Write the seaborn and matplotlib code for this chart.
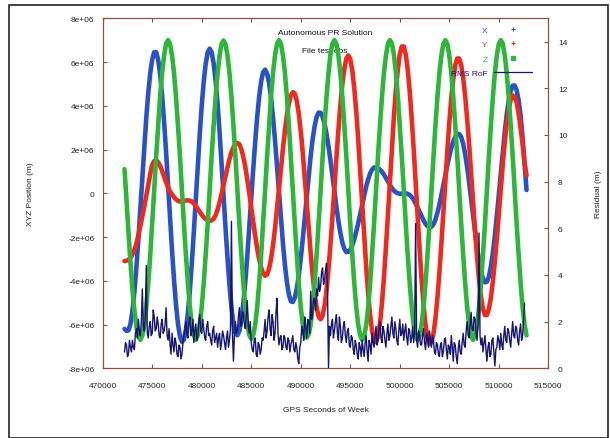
import numpy as np
import pandas as pd
import seaborn as sns
import matplotlib
matplotlib.use("Agg")
import matplotlib.pyplot as plt
from matplotlib.lines import Line2D
from matplotlib.patches import Rectangle
from matplotlib.ticker import FuncFormatter

# --- satellite XYZ position (units of 1e6 m), one epoch every 200 s
pos_t0 = 472200
pos_step = 200
x_pos = [-6.2, -6.29, -6.27, -5.98, -5.38, -4.50, -3.39, -2.10, -0.70, 0.75,
         2.15, 3.46, 4.58, 5.50, 6.13, 6.45, 6.45, 6.10, 5.43, 4.46,
         3.25, 1.87, 0.38, -1.14, -2.61, -3.95, -5.10, -5.97, -6.55, -6.79,
         -6.69, -6.24, -5.49, -4.45, -3.18, -1.76, -0.25, 1.27, 2.71, 4.02,
         5.11, 5.92, 6.44, 6.61, 6.44, 5.94, 5.14, 4.08, 2.80, 1.39,
         -0.09, -1.57, -2.95, -4.20, -5.21, -5.96, -6.39, -6.49, -6.29, -5.78,
         -5.02, -4.03, -2.86, -1.57, -0.22, 1.11, 2.36, 3.50, 4.42, 5.12,
         5.53, 5.65, 5.48, 5.04, 4.36, 3.47, 2.42, 1.24, 0.03, -1.17,
         -2.29, -3.28, -4.07, -4.63, -4.94, -4.97, -4.77, -4.36, -3.75, -2.98,
         -2.10, -1.14, -0.14, 0.82, 1.71, 2.47, 3.07, 3.49, 3.69, 3.68,
         3.51, 3.18, 2.72, 2.15, 1.50, 0.79, 0.08, -0.62, -1.26, -1.82,
         -2.25, -2.54, -2.69, -2.68, -2.58, -2.38, -2.11, -1.76, -1.37, -0.95,
         -0.52, -0.10, 0.30, 0.63, 0.90, 1.08, 1.18, 1.18, 1.15, 1.08,
         0.98, 0.85, 0.70, 0.54, 0.38, 0.24, 0.12, 0.05, 0.0, -0.02,
         -0.02, -0.01, 0.0, -0.03, -0.08, -0.17, -0.30, -0.47, -0.65, -0.85,
         -1.05, -1.24, -1.40, -1.50, -1.56, -1.53, -1.42, -1.20, -0.89, -0.52,
         -0.09, 0.36, 0.83, 1.28, 1.70, 2.07, 2.36, 2.58, 2.70, 2.71,
         2.57, 2.26, 1.79, 1.20, 0.50, -0.25, -1.03, -1.79, -2.49, -3.10,
         -3.58, -3.91, -4.07, -4.04, -3.80, -3.35, -2.72, -1.94, -1.03, -0.06,
         0.94, 1.91, 2.81, 3.60, 4.23, 4.68, 4.92, 4.93, 4.71, 4.25,
         3.55, 2.55, 1.35, 0.15]
y_pos = [-3.1, -3.08, -3.05, -2.95, -2.8, -2.58, -2.3, -1.92, -1.5, -1.05,
         -0.6, -0.1, 0.4, 0.88, 1.3, 1.47, 1.5, 1.42, 1.25, 1.02,
         0.75, 0.5, 0.25, 0.08, -0.05, -0.18, -0.28, -0.34, -0.38, -0.38,
         -0.36, -0.33, -0.32, -0.34, -0.38, -0.47, -0.58, -0.71, -0.85, -0.98,
         -1.1, -1.18, -1.23, -1.25, -1.24, -1.17, -1.0, -0.75, -0.42, -0.04,
         0.37, 0.79, 1.19, 1.56, 1.87, 2.10, 2.25, 2.3, 2.24, 2.01,
         1.66, 1.20, 0.63, 0.01, -0.65, -1.32, -1.96, -2.53, -3.02, -3.40,
         -3.66, -3.77, -3.71, -3.45, -2.99, -2.37, -1.61, -0.73, 0.19, 1.13,
         2.04, 2.86, 3.56, 4.10, 4.47, 4.62, 4.55, 4.22, 3.64, 2.84,
         1.86, 0.75, -0.41, -1.59, -2.72, -3.74, -4.59, -5.22, -5.63, -5.76,
         -5.6, -5.15, -4.44, -3.48, -2.34, -1.07, 0.28, 1.62, 2.89, 4.03,
         4.99, 5.70, 6.15, 6.3, 6.13, 5.63, 4.82, 3.75, 2.47, 1.05,
         -0.44, -1.91, -3.31, -4.55, -5.55, -6.28, -6.70, -6.8, -6.52, -5.93,
         -5.01, -3.85, -2.48, -0.99, 0.56, 2.07, 3.47, 4.70, 5.67, 6.36,
         6.71, 6.71, 6.35, 5.66, 4.68, 3.45, 2.03, 0.51, -1.04, -2.55,
         -3.93, -5.11, -6.01, -6.62, -6.89, -6.81, -6.42, -5.73, -4.78, -3.63,
         -2.30, -0.89, 0.55, 1.95, 3.23, 4.35, 5.23, 5.85, 6.16, 6.16,
         5.86, 5.29, 4.46, 3.42, 2.23, 0.93, -0.40, -1.69, -2.89, -3.91,
         -4.72, -5.29, -5.57, -5.56, -5.28, -4.77, -4.03, -3.11, -2.07, -0.94,
         0.21, 1.32, 2.33, 3.18, 3.84, 4.28, 4.47, 4.42, 4.15, 3.65,
         3.0, 2.25, 1.4, 0.8]
z_pos = [1.1, -0.3, -1.8, -3.15, -4.4, -5.35, -6.1, -6.55, -6.7, -6.5,
         -6.05, -5.2, -4.1, -2.8, -1.35, 0.15, 1.7, 3.1, 4.45, 5.5,
         6.3, 6.85,
         7.0, 6.83, 6.3, 5.5, 4.4, 3.1, 1.7, 0.15, -1.4, -2.8,
         -4.1, -5.2, -6.0, -6.5, -6.7, -6.5, -6.0, -5.2, -4.1, -2.8,
         -1.4, 0.15, 1.7, 3.1, 4.4, 5.5, 6.3, 6.83,
         6.98, 6.82, 6.3, 5.5, 4.4, 3.1, 1.7, 0.15, -1.4, -2.8,
         -4.1, -5.2, -6.0, -6.48, -6.65, -6.48, -6.0, -5.2, -4.1, -2.8,
         -1.35, 0.15, 1.7, 3.1, 4.45, 5.5, 6.3, 6.83,
         7.0, 6.83, 6.3, 5.5, 4.4, 3.1, 1.65, 0.12, -1.4, -2.8,
         -4.1, -5.2, -6.0, -6.45, -6.6, -6.45, -6.0, -5.2, -4.1, -2.8,
         -1.4, 0.12, 1.65, 3.1, 4.4, 5.5, 6.35, 6.85,
         7.0, 6.83, 6.3, 5.5, 4.4, 3.1, 1.7, 0.15, -1.4, -2.8,
         -4.1, -5.2, -6.0, -6.5, -6.7, -6.52, -6.05, -5.25, -4.15, -2.8,
         -1.4, 0.15, 1.7, 3.1, 4.4, 5.5, 6.3, 6.83,
         7.0, 6.85, 6.35, 5.55, 4.45, 3.1, 1.7, 0.15, -1.35, -2.8,
         -4.1, -5.2, -6.0, -6.5, -6.7, -6.5, -6.0, -5.2, -4.1, -2.8,
         -1.4, 0.15, 1.65, 3.1, 4.4, 5.5, 6.3, 6.83,
         7.0, 6.83, 6.3, 5.5, 4.4, 3.1, 1.7, 0.15, -1.4, -2.8,
         -4.1, -5.2, -6.0, -6.5, -6.7, -6.5, -6.0, -5.2, -4.1, -2.8,
         -1.4, 0.15, 1.7, 3.1, 4.4, 5.5, 6.3, 6.83,
         7.0, 6.83, 6.3, 5.5, 4.4, 3.1, 1.7, 0.15, -1.4, -2.8,
         -4.1, -5.2, -6.0, -6.5]

# --- RMS residual of fit (m), one epoch every 100 s
res_t0 = 472200
res_step = 100
rms_rof = [0.7, 1.1, 1.0, 0.5, 0.6, 1.2, 0.9, 0.7, 1.2, 0.9, 0.8, 1.5, 1.7, 1.3, 2.1, 1.6, 1.4, 2.0, 3.4, 1.8,
           1.6, 2.3, 4.4, 1.5, 1.3, 1.8, 2.0, 1.4, 1.5, 2.5, 2.2, 1.6, 1.7, 2.2, 1.9, 1.4, 1.3, 1.9, 2.1, 1.5,
           1.6, 1.9, 2.6, 1.4, 1.2, 1.7, 1.0, 0.6, 1.5, 1.0, 0.7, 1.3, 1.1, 0.6, 0.5, 1.0, 0.9, 0.4, 0.6, 1.1,
           1.4, 1.7, 2.0, 1.5, 1.3, 1.9, 2.2, 1.4, 1.6, 2.1, 1.1, 1.6, 1.9, 1.2, 1.4, 2.0, 2.3, 1.6, 1.5, 2.1,
           1.7, 1.3, 1.2, 1.8, 2.0, 1.4, 1.5, 1.2, 1.0, 1.6, 1.8, 1.1, 1.3, 1.5, 0.9, 1.3, 1.5, 0.8, 1.1, 1.6,
           1.4, 1.1, 0.8, 1.3, 1.6, 0.9, 1.2, 1.7, 6.3, 1.5, 0.3, 1.4, 2.0, 1.5, 1.6, 2.2, 2.6, 1.9, 1.8, 2.4,
           2.4, 1.9, 1.7, 2.3, 2.9, 1.8, 1.5, 2.0, 1.1, 0.8, 0.7, 1.2, 1.3, 0.6, 0.5, 1.1, 1.0, 0.6, 0.8, 1.3,
           1.2, 1.6, 2.1, 1.3, 1.6, 2.2, 2.5, 1.7, 1.4, 2.3, 2.0, 1.2, 1.5, 2.4, 3.0, 1.5, 1.0, 1.3, 1.4, 0.8,
           0.9, 1.4, 1.3, 0.9, 0.8, 1.3, 1.2, 0.7, 1.0, 1.2, 1.4, 0.8, 0.7, 1.1, 0.9, 0.4, 0.2, 0.9, 1.1, 1.8,
           1.6, 1.2, 2.2, 1.8, 1.3, 2.1, 2.0, 1.5, 3.3, 2.1, 2.4, 3.0, 2.9, 2.5, 3.4, 3.1, 3.9, 3.3, 3.5, 4.1,
           4.3, 3.6, 3.8, 4.2, 4.5, 3.4, 0.0, 1.8, 1.4, 1.9, 2.1, 1.3, 1.6, 2.0, 2.3, 1.5, 1.2, 2.2, 1.8, 1.1,
           1.3, 1.8, 2.0, 1.4, 1.1, 1.6, 1.7, 1.0, 0.9, 1.4, 1.3, 0.8, 0.6, 1.2, 1.0, 0.6, 0.4, 1.1, 0.9, 0.5,
           1.2, 0.8, 0.5, 1.1, 1.4, 0.7, 0.3, 1.2, 1.0, 0.6, 1.5, 1.1, 0.9, 1.4, 1.8, 1.0, 1.2, 1.7, 2.0, 1.3,
           1.1, 1.8, 1.6, 1.2, 0.9, 1.5, 1.9, 1.2, 1.4, 1.8, 2.2, 1.5, 1.3, 2.0, 1.7, 1.2, 1.0, 1.6, 2.1, 1.4,
           1.5, 1.9, 1.2, 1.6, 1.9, 1.3, 1.0, 1.7, 1.6, 1.1, 1.3, 1.8, 1.1, 1.5, 6.2, 1.2, 0.9, 1.6, 1.4, 1.0,
           1.0, 1.4, 1.7, 1.1, 0.8, 1.5, 1.3, 0.9, 1.6, 1.2, 0.9, 1.4, 1.2, 0.7, 0.6, 1.1, 1.0, 0.6, 0.5, 1.0,
           1.1, 0.5, 0.7, 1.2, 1.3, 0.8, 0.4, 1.0, 0.9, 0.6, 1.4, 0.9, 0.3, 1.1, 1.0, 0.5, 0.2, 0.8, 1.2, 0.7,
           0.6, 1.1, 1.5, 1.0, 0.9, 1.6, 2.0, 1.4, 1.3, 1.9, 2.4, 1.7, 1.6, 2.2, 2.1, 1.5, 1.2, 1.9, 5.8, 1.4,
           1.0, 1.3, 0.7, 1.1, 1.4, 0.8, 0.3, 0.9, 1.1, 0.5, 0.6, 1.2, 1.3, 0.7, 0.1, 0.8, 0.9, 1.4, 1.2, 0.8,
           1.5, 1.0, 0.8, 1.4, 1.8, 1.2, 1.1, 1.7, 1.6, 1.2, 0.9, 1.5, 2.0, 1.4, 1.3, 1.8, 1.7, 1.2, 1.0, 1.6,
           1.9, 1.2, 1.4, 2.0, 2.8]

labels = ["X", "Y", "Z", "RMS RoF"]
colors = ["#2a52c4", "#ec2a20", "#2fb53a", "#16166e"]
spine_c = "#8a5040"

df_pos = pd.DataFrame({
    "t": pos_t0 + pos_step * np.arange(len(x_pos)),
    "X": np.array(x_pos) * 1e6,
    "Y": np.array(y_pos) * 1e6,
    "Z": np.array(z_pos) * 1e6,
})
df_res = pd.DataFrame({
    "t": res_t0 + res_step * np.arange(len(rms_rof)),
    "rms": rms_rof,
})

sns.set_style("ticks")
plt.rcParams["font.family"] = ["Liberation Sans", "DejaVu Sans"]

fig = plt.figure(figsize=(6.1, 4.39), dpi=100)
ax = fig.add_axes([0.1684, 0.1588, 0.7305, 0.7973])
ax2 = ax.twinx()

for col, c in zip(["X", "Y", "Z"], colors[:3]):
    sns.lineplot(data=df_pos, x="t", y=col, ax=ax, color=c, lw=3.3,
                 estimator=None, sort=False, solid_capstyle="round",
                 solid_joinstyle="round")
sns.lineplot(data=df_res, x="t", y="rms", ax=ax2, color=colors[3], lw=1.0,
             estimator=None, sort=False)

# axes ranges / ticks
ax.set_xlim(470000, 515000)
ax.set_xticks(range(470000, 515001, 5000))
ax.set_ylim(-8e6, 8e6)
ax.set_yticks(np.arange(-8e6, 8.1e6, 2e6))
ax2.set_ylim(0, 15)
ax2.set_yticks(range(0, 15, 2))
fmt = FuncFormatter(lambda v, p: f"{v:g}")
ax.xaxis.set_major_formatter(fmt)
ax.yaxis.set_major_formatter(fmt)

ax.tick_params(axis="x", direction="in", length=3, top=True, bottom=True,
               labelsize=6, pad=10, color=spine_c, labelcolor="#222222")
ax.tick_params(axis="y", direction="in", length=3, left=True, right=False,
               labelsize=6, pad=6, color=spine_c, labelcolor="#222222")
ax2.tick_params(axis="y", direction="in", length=3, right=True,
                labelsize=6, pad=7, color=spine_c, labelcolor="#222222")

for a in (ax, ax2):
    for s in a.spines.values():
        s.set_color(spine_c)
        s.set_linewidth(0.8)

ax.set_xlabel("GPS Seconds of Week", fontsize=6, color="#222222")
ax.set_ylabel("XYZ Position (m)", fontsize=6, color="#222222")
ax2.set_ylabel("Residual (m)", fontsize=6, color="#222222")
ax.xaxis.set_label_coords(0.5, -0.108)
ax.yaxis.set_label_coords(-0.155, 0.5)
ax2.yaxis.set_label_coords(1.104, 0.5)

ax.text(0.499, 0.96, "Autonomous PR Solution", transform=ax.transAxes,
        ha="center", va="center", fontsize=6, color="#111111", zorder=1.5)
ax.text(0.498, 0.909, "File test.obs", transform=ax.transAxes,
        ha="center", va="center", fontsize=6, color="#111111", zorder=1.5)

# legend, gnuplot style (label then sample)
handles = [
    Line2D([], [], color=colors[0], marker="+", ls="none", ms=3, mew=0.8),
    Line2D([], [], color=colors[1], marker="+", ls="none", ms=3, mew=0.8),
    Line2D([], [], color=colors[2], marker="s", ls="none", ms=2.2),
    Line2D([], [], color=colors[3], lw=0.9),
]
leg = ax2.legend(handles, labels, loc="upper right", bbox_to_anchor=(0.963, 0.978),
                 frameon=False, markerfirst=False, numpoints=1, fontsize=6,
                 handlelength=4.6, handletextpad=0.7, labelspacing=0.8,
                 borderpad=0, borderaxespad=0)
for txt, c in zip(leg.get_texts(), colors):
    txt.set_color(c)

# outer frame
fig.add_artist(Rectangle((9 / 610, 0.5 / 439), 599 / 610, 433 / 439,
                         transform=fig.transFigure, fill=False,
                         ec="#222222", lw=1.2))

fig.savefig("out.png", dpi=100)
